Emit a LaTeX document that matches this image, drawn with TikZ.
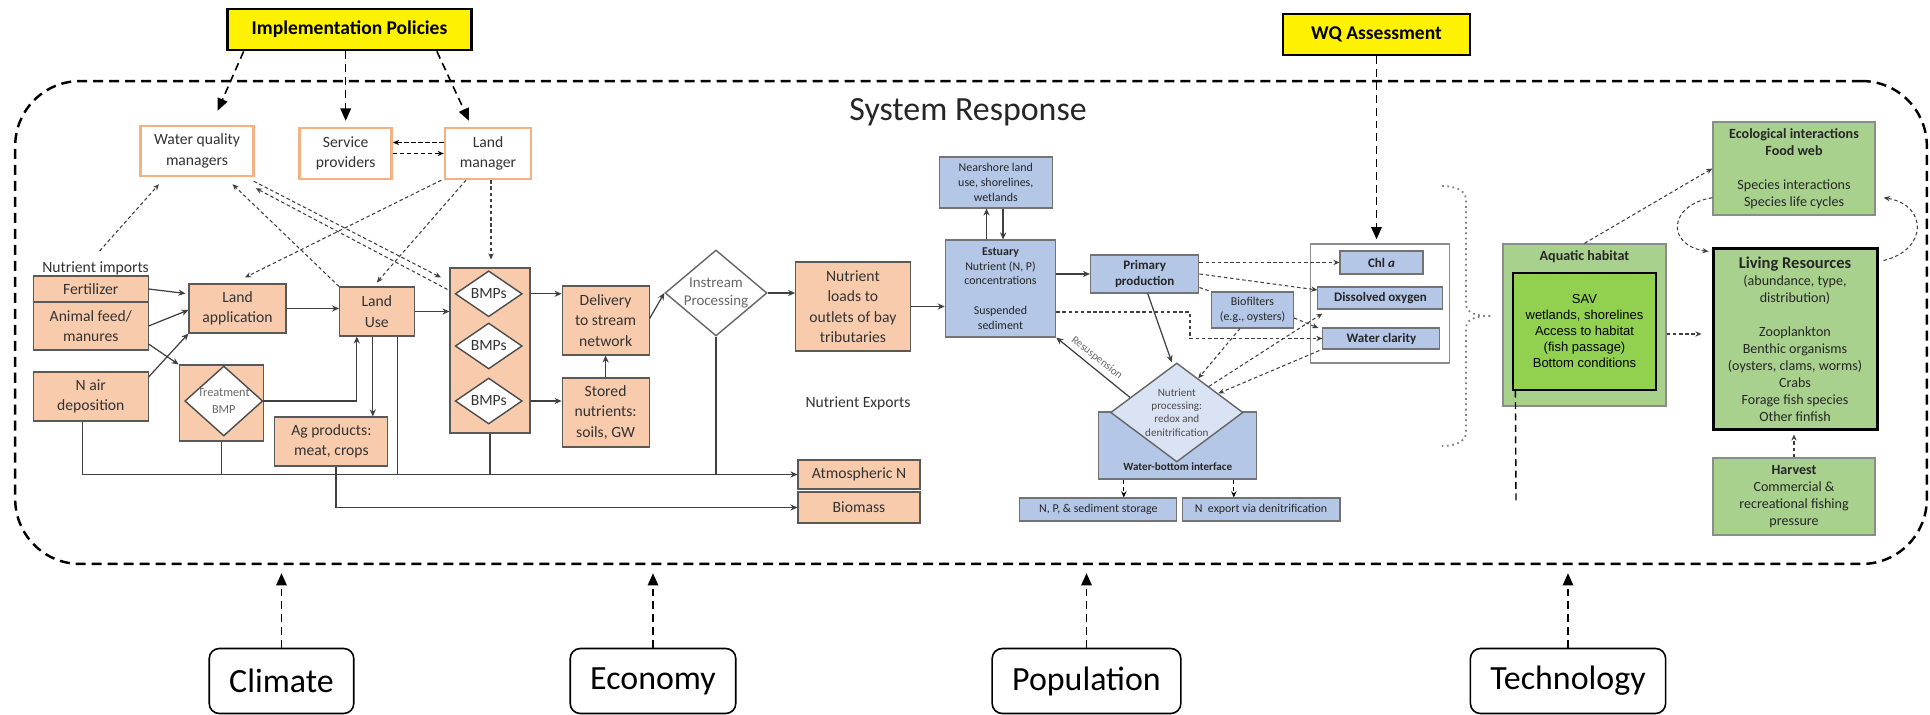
\documentclass[tikz,border=0pt]{standalone}
\usepackage{fontspec}
\setmainfont{Carlito}
\newfontfamily\arialfont{Liberation Sans}
\usepackage{tikz}
\usetikzlibrary{arrows.meta}
\usetikzlibrary{shapes.geometric}
\usetikzlibrary{calc}

\definecolor{orfill}{HTML}{F8CBAD}
\definecolor{orline}{HTML}{F4B183}
\definecolor{blfill}{HTML}{B4C7E7}
\definecolor{blpale}{HTML}{DAE3F3}
\definecolor{grfill}{HTML}{A9D18E}
\definecolor{savfill}{HTML}{92D050}
\definecolor{linegray}{HTML}{404040}

\newcommand{\fsys}{\fontsize{19.3}{23}\selectfont}
\newcommand{\fpol}{\fontsize{11.1}{13}\selectfont\bfseries}
\newcommand{\forg}{\fontsize{8.9}{11.6}\selectfont}
\newcommand{\fins}{\fontsize{8.5}{10.2}\selectfont}
\newcommand{\ftrt}{\fontsize{7}{10}\selectfont}
\newcommand{\fblu}{\fontsize{6.8}{8.4}\selectfont}
\newcommand{\fwq}{\fontsize{7.4}{8.6}\selectfont\bfseries}
\newcommand{\fproc}{\fontsize{6.3}{7.6}\selectfont}
\newcommand{\fgrn}{\fontsize{8}{9.7}\selectfont}
\newcommand{\fsav}{\arialfont\fontsize{7.4}{9.1}\selectfont}

\begin{document}
\begin{tikzpicture}[x=0.02cm, y=-0.02cm,
  sysline/.style={draw=black, line width=1.4pt, dash pattern=on 5.7pt off 3.4pt, rounded corners=1.3cm, minimum width=38.24cm, minimum height=9.66cm},
  policy/.style={draw=black, fill=yellow, line width=1.6pt, font=\fpol},
  mgr/.style={draw=orline, fill=white, line width=1.4pt, align=center, font=\forg, text=black!80, inner sep=1pt},
  obox/.style={draw=black!65, fill=orfill, line width=0.6pt, align=center, font=\forg, text=black!80, inner sep=1pt},
  bmpd/.style={diamond, draw=black!70, fill=white, line width=0.8pt, inner sep=0pt, align=center, text=black!80},
  bbox/.style={draw=black!55, fill=blfill, line width=0.6pt, align=center, font=\fblu, text=black!85, inner sep=1pt},
  gbox/.style={draw=black!45, fill=grfill, line width=0.8pt, align=center, font=\fgrn, text=black!85, inner sep=1pt},
  driver/.style={draw=black, rounded corners=0.2cm, line width=0.9pt, font=\fsys, inner xsep=0.4cm, minimum height=1.3cm},
  wire/.style={draw=linegray, line width=0.7pt},
  flow/.style={wire, -{Stealth[length=4pt,width=3.5pt]}},
  dflow/.style={draw=linegray, line width=0.6pt, dash pattern=on 2pt off 1.5pt, -{Stealth[length=3.5pt,width=3pt]}},
  kdash/.style={draw=black, line width=0.7pt, dash pattern=on 2.5pt off 1.5pt, -{Stealth[length=3.5pt,width=3pt]}},
  bigdash/.style={draw=black, line width=0.9pt, dash pattern=on 4.5pt off 2.8pt, -{Triangle[length=7pt,width=6pt]}},
]
\useasboundingbox (0,0) rectangle (1930,715);

% system boundary
\node[sysline] (sys) at (971,322.5) {};
\node[font=\fsys, text=black!85] (sysr) at (968,112) {System Response};

% policy boxes
\node[policy, minimum width=4.88cm, minimum height=0.82cm] (impl) at (349.5,29.5) {Implementation Policies};
\node[policy, minimum width=3.74cm, minimum height=0.82cm] (wqa) at (1376.5,34.5) {WQ Assessment};

% managers
\node[mgr, minimum width=2.26cm, minimum height=1.0cm] (wqm) at (197,151) {Water quality\\managers};
\node[mgr, minimum width=1.84cm, minimum height=1.02cm] (svc) at (345.7,153.5) {Service\\providers};
\node[mgr, minimum width=1.72cm, minimum height=1.02cm] (lman) at (488,153.5) {Land\\manager};

% watershed boxes
\node[font=\forg, text=black!80, inner sep=0pt] (nutimp) at (95.6,268) {Nutrient imports};
\node[obox, minimum width=2.29cm, minimum height=0.52cm] (fert) at (90.8,289) {Fertilizer};
\node[obox, minimum width=2.29cm, minimum height=0.96cm] (feed) at (90.8,326) {Animal feed/\\manures};
\node[obox, minimum width=2.29cm, minimum height=0.98cm] (nair) at (90.8,396.5) {N air\\deposition};
\node[obox, minimum width=1.94cm, minimum height=0.98cm] (lapp) at (237.5,308.5) {Land\\application};
\node[obox, minimum width=1.49cm, minimum height=0.98cm] (luse) at (376.8,311.5) {Land\\Use};
\node[obox, minimum width=1.69cm, minimum height=1.52cm] (treat) at (221.4,403) {};
\node[bmpd, font=\ftrt, text=black!60, inner sep=-3pt, shape aspect=1.11, minimum width=1.56cm, minimum height=1.4cm] (treatd) at (223.8,401) {Treatment\\BMP};
\node[obox, minimum width=2.26cm, minimum height=0.98cm] (agp) at (331.4,441.5) {Ag products:\\meat, crops};
\node[obox, minimum width=1.6cm, minimum height=3.3cm] (bmpcol) at (490,350.5) {};
\node[bmpd, font=\forg, shape aspect=1.46, minimum width=1.34cm, minimum height=0.92cm] (bmpa) at (488.7,293.8) {BMPs};
\node[bmpd, font=\forg, shape aspect=1.46, minimum width=1.34cm, minimum height=0.92cm] (bmpb) at (488.7,346) {BMPs};
\node[bmpd, font=\forg, shape aspect=1.46, minimum width=1.34cm, minimum height=0.92cm] (bmpc) at (488.7,401) {BMPs};
\node[obox, minimum width=1.74cm, minimum height=1.38cm] (deliv) at (605.6,320.5) {Delivery\\to stream\\network};
\node[obox, minimum width=1.74cm, minimum height=1.38cm] (stored) at (605.6,412.5) {Stored\\nutrients:\\soils, GW};
\node[bmpd, draw=black!60, font=\fins, text=black!60, shape aspect=1.19, minimum width=2.04cm, minimum height=1.72cm] (instr) at (716,293) {Instream\\Processing};
\node[obox, minimum width=2.29cm, minimum height=1.78cm] (loads) at (852.9,306.5) {Nutrient\\loads to\\outlets of bay\\tributaries};
\node[obox, minimum width=2.44cm, minimum height=0.58cm] (atmn) at (859,474.5) {Atmospheric N};
\node[obox, minimum width=2.44cm, minimum height=0.62cm] (biom) at (859,507.5) {Biomass};
\node[font=\forg, text=black!80] (nexports) at (858,403) {Nutrient Exports};

% estuary boxes
\node[bbox, minimum width=2.27cm, minimum height=1.02cm] (near) at (995.8,182.5) {Nearshore land\\use, shorelines,\\wetlands};
\node[bbox, minimum width=2.21cm, minimum height=1.94cm] (estu) at (1000.5,288.5) {\textbf{Estuary}\\Nutrient (N, P)\\concentrations\\[8.4pt]Suspended\\sediment};
\node[bbox, font=\fwq, minimum width=2.17cm, minimum height=0.76cm] (prim) at (1144.7,274) {Primary\\production};
\node[bbox, minimum width=1.64cm, minimum height=0.72cm] (biof) at (1252.5,310) {Biofilters\\(e.g., oysters)};
\node[draw=black!45, fill=white, line width=0.8pt, minimum width=2.78cm, minimum height=2.38cm] (wqgrp) at (1379.9,303.5) {};
\node[bbox, font=\fwq, minimum width=1.66cm, minimum height=0.46cm] (chla) at (1381.5,262.5) {Chl \textit{a}};
\node[bbox, font=\fwq, minimum width=2.5cm, minimum height=0.44cm] (dox) at (1380.4,298) {Dissolved oxygen};
\node[bbox, font=\fwq, minimum width=2.34cm, minimum height=0.42cm] (wclar) at (1381.4,338.5) {Water clarity};
\node[bbox, minimum width=3.16cm, minimum height=1.34cm] (wbi) at (1177.8,445.5) {};
\node[bmpd, draw=black!60, fill=blpale, font=\fproc, text=black!70, shape aspect=1.34, minimum width=2.65cm, minimum height=1.98cm] (nproc) at (1176.8,412.5) {Nutrient\\processing:\\redox and\\denitrification};
\node[font=\fproc\bfseries, text=black!85] (wbit) at (1177.8,467) {Water-bottom interface};
\node[bbox, minimum width=3.14cm, minimum height=0.46cm] (nps) at (1098.4,509.5) {N, P, \& sediment storage};
\node[bbox, minimum width=3.16cm, minimum height=0.46cm] (nexp) at (1261,509.5) {N~ export via denitrification};
\node[font=\fproc, text=black!60, rotate=-38.2] (resus) at (1096.8,358) {Resuspension};

% living resources boxes
\node[gbox, minimum width=3.24cm, minimum height=1.86cm] (eco) at (1794,168.5) {\textbf{Ecological interactions}\\\textbf{Food web}\\[9.7pt]Species interactions\\Species life cycles};
\node[gbox, minimum width=3.26cm, minimum height=3.24cm] (aqh) at (1584.5,325) {};
\node[font=\fgrn\bfseries, text=black!85] (aqht) at (1584.5,257) {Aquatic habitat};
\node[draw=black, fill=savfill, line width=0.7pt, align=center, font=\fsav, minimum width=2.86cm, minimum height=2.34cm] (sav) at (1584.5,331.5) {SAV\\wetlands, shorelines\\Access to habitat\\(fish passage)\\Bottom conditions};
\node[gbox, draw=black, line width=1.7pt, minimum width=3.28cm, minimum height=3.64cm] (lres) at (1795,339) {{\fontsize{9.4}{9.7}\selectfont\textbf{Living Resources}}\\(abundance, type,\\distribution)\\[9.7pt]Zooplankton\\Benthic organisms\\(oysters, clams, worms)\\Crabs\\Forage fish species\\Other finfish};
\node[gbox, minimum width=3.24cm, minimum height=1.54cm] (harv) at (1794,496.5) {\textbf{Harvest}\\Commercial \&\\recreational fishing\\pressure};

% drivers
\node[driver] (clim) at (281.5,681) {Climate};
\node[driver] (econ) at (653,681) {Economy};
\node[driver] (popn) at (1086.5,681) {Population};
\node[driver] (tech) at (1568,681) {Technology};

% helper points
\coordinate (luseA) at ($(luse.south)+(-4,0)$);
\coordinate (luseB) at ($(luse.south)+(21,0)$);
\coordinate (nairA) at ($(nair.south)+(-8,0)$);
\coordinate (agpA) at ($(agp.south)+(4.5,0)$);
\coordinate (upA) at ($(estu.north)+(-14,0)$);
\coordinate (downA) at ($(near.south)+(7.3,0)$);
\coordinate (wbA) at ($(wbi.south)+(-54,0)$);
\coordinate (wbB) at ($(wbi.south)+(56,0)$);
\coordinate (savend) at (1516,502);

% policy arrows
\draw[bigdash] ($(impl.south west)+(17.5,0)$) -- ($(wqm.north)+(20.6,-14)$);
\draw[bigdash] (svc.north |- impl.south) -- ($(svc.north)+(0,-6)$);
\draw[bigdash] ($(impl.south east)+(-36,0)$) -- ($(lman.north)+(-19,-6)$);
\draw[bigdash] (wqa.south) -- ($(wqa.south |- wqgrp.north)+(0,-4)$);
\draw[kdash] ($(lman.west)+(0,-11)$) -- ($(svc.east)+(0,-11)$);
\draw[kdash] (svc.east) -- (svc.east -| lman.west);

% manager links
\draw[dflow] ($(nutimp.north)+(4,-10)$) -- ($(wqm.south)+(-38,7)$);
\draw[dflow] ($(lman.south west)+(-2.5,0)$) -- ($(lapp.north)+(7.5,-6)$);
\draw[dflow] ($(lman.south)+(-22,0)$) -- ($(luse.north)+(0,-4)$);
\draw[dflow] ($(lman.south)+(3,0)$) -- ($(bmpcol.north)+(1,-8)$);
\draw[dflow] (luse.north west) -- ($(wqm.south)+(35.5,7)$);
\draw[dflow] ($(wqm.south east)+(-1,4)$) -- ($(bmpcol.north west)+(-8.5,10)$);
\draw[dflow] ($(bmpcol.north west)+(-2,22)$) -- ($(wqm.south east)+(1,11)$);

% watershed flows
\draw[flow] (fert.east) -- ($(lapp.west)+(-3,-15)$);
\draw[flow] (feed.east) -- ($(lapp.west)+(0,1.5)$);
\draw[flow] ($(feed.east)+(0,18)$) -- (treat.north west);
\draw[flow] ($(nair.east)+(0,-19.5)$) -- (lapp.south west);
\draw[flow] (lapp.east) -- (lapp.east -| luse.west);
\draw[flow] (luse.east) -- (luse.east -| bmpcol.west);
\draw[flow] (treatd.east) -| ($(luse.south)+(-20,0)$);
\draw[flow] (luseA) -- (luseA |- agp.north);
\draw[flow] (bmpa.east -| bmpcol.east) -- (bmpa.east -| deliv.west);
\draw[flow] (bmpc.east -| bmpcol.east) -- (bmpc.east -| stored.west);
\draw[flow] (stored.north) -- (deliv.south);
\draw[flow] ($(deliv.east)+(0,-2)$) -- (instr.west);
\draw[flow] (instr.east) -- (instr.east -| loads.west);
\draw[flow] (loads.east) -- (loads.east -| estu.west);

% export lines
\draw[flow] (nairA) |- (atmn.west);
\draw[wire] (treat.south) -- (treat.south |- atmn.west);
\draw[wire] (luseB) -- (luseB |- atmn.west);
\draw[wire] (bmpcol.south) -- (bmpcol.south |- atmn.west);
\draw[wire] (instr.south) -- (instr.south |- atmn.west);
\draw[flow] (agpA) |- (biom.west);

% estuary flows
\draw[flow] (upA) -- (upA |- near.south);
\draw[flow] (downA) -- (downA |- estu.north);
\draw[flow] (estu.east |- prim.west) -- (prim.west);
\draw[flow] ($(prim.south)+(3,0)$) -- ($(nproc.north)+(-5,0)$);
\draw[flow] ($(nproc.west)!0.3!(nproc.north)$) -- (estu.south east);
\draw[dflow] (prim.east |- chla.west) -- (chla.west);
\draw[dflow] (prim.east) -- ($(dox.west)+(0,-8)$);
\draw[dflow, -] ($(prim.south east)+(0,-6)$) -- (biof.north west);
\draw[dflow] ($(estu.east)+(0,23.5)$) -- ++(133.7,0) |- (wclar.west);
\draw[dflow] ($(biof.east)+(0,8)$) -- ($(wclar.west)+(-4,-10.5)$);
\draw[dflow] ($(biof.south)+(-12.5,0)$) -- ($(nproc.north)!0.32!(nproc.east)$);
\draw[dflow] ($(nproc.north)!0.48!(nproc.east)$) -- ($(dox.south west)+(5,4)$);
\draw[dflow] ($(wclar.south west)+(-3,1)$) -- ($(nproc.north)!0.62!(nproc.east)$);
\draw[kdash] (wbA) -- (wbA |- nps.north);
\draw[kdash] (wbB) -- (wbB |- nexp.north);

% brace
\draw[black!50, line width=1pt, dotted] (1442,186) to[out=0,in=90] (1466,200) -- (1466,304) to[out=-90,in=180] (1492,316) to[out=180,in=90] (1466,328) -- (1466,432) to[out=-90,in=0] (1442,446);

% living resources links
\draw[dflow] (aqh.north) -- (eco.west);
\draw[dflow] ($(aqh.east)+(0,9)$) -- ($(lres.west)+(-10,-5)$);
\draw[dflow] (harv.north) -- ($(lres.south)+(-1,3)$);
\draw[dflow] ($(eco.south west)+(0,-18)$) .. controls (1668,205) and (1666,245) .. ($(lres.north west)+(-3,5)$);
\draw[dflow] ($(lres.north east)+(5,14)$) .. controls (1928,250) and (1928,205) .. ($(eco.south east)+(8,-18)$);
\draw[black, line width=0.8pt, dash pattern=on 4pt off 2.5pt] ($(sav.south west)+(3,0)$) -- (savend);

% driver arrows
\draw[bigdash] (clim.north) -- ($(clim.north |- sys.south)+(0,8)$);
\draw[bigdash] (econ.north) -- ($(econ.north |- sys.south)+(0,8)$);
\draw[bigdash] (popn.north) -- ($(popn.north |- sys.south)+(0,8)$);
\draw[bigdash] (tech.north) -- ($(tech.north |- sys.south)+(0,8)$);
\end{tikzpicture}
\end{document}
